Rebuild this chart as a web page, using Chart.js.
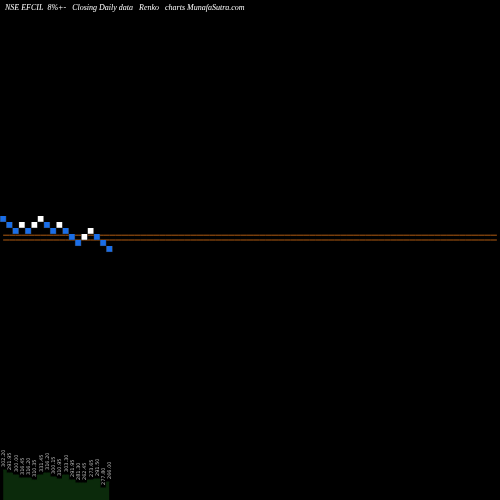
<!DOCTYPE html><html><head><script src="https://cdn.jsdelivr.net/npm/chart.js@4"></script>
<style>body{margin:0;background:#000}#w{width:500px;height:500px}</style></head><body><div id="w"><canvas id="c"></canvas></div>
<script>
const levels=[0,1,2,1,2,1,0,1,2,1,2,3,4,3,2,3,4,5];
const upBrick=[false,false,false,true,false,true,true,false,false,true,false,false,false,true,true,false,false,false];
const priceLabels=["302.20","291.95","300.00","316.45","316.20","310.35","331.45","316.20","300.15","310.95","303.30","291.95","281.30","262.45","273.65","291.50","277.80","266.00"];
const volume=[30,27,25,22,22,20,25,27,23,21,25,20,17,17,20,21,12,18];
const refLines=[39.2,40];
const N=80;
const cats=Array.from({length:N},(_,i)=>i<levels.length?priceLabels[i]:"");
const off=36;
const labelPlugin={id:'lbl',afterDatasetsDraw(ch){const c=ch.ctx,xs=ch.scales.x,yv=ch.scales.yv;c.save();c.fillStyle='#bbb';c.font='5px "DejaVu Sans"';
priceLabels.forEach((t,i)=>{const x=xs.getPixelForValue(i),y=yv.getPixelForValue(volume[i])-3;c.save();c.translate(x+2,y);c.rotate(-Math.PI/2);c.fillText(t,0,0);c.restore();});
c.fillStyle='#fff';c.font='italic 8px "Liberation Serif"';c.fillText('NSE EFCIL  8%+-   Closing Daily data   Renko   charts MunafaSutra.com',5,10);c.restore();}};
new Chart(document.getElementById('c'),{plugins:[labelPlugin],data:{labels:cats,datasets:[
{type:'bar',data:levels.map(l=>[l+off,l+off+1]),backgroundColor:upBrick.map(u=>u?'#ffffff':'#1a6ee8'),borderColor:'#333',borderWidth:0.7,barPercentage:1,categoryPercentage:1,yAxisID:'y'},
{type:'line',data:volume,yAxisID:'yv',stepped:'middle',fill:'origin',backgroundColor:'#0b2a0b',borderColor:'#0b2a0b',pointRadius:0,borderWidth:1},
...refLines.map(v=>({type:'line',data:Array(N).fill(v),yAxisID:'y',borderColor:'#b05a10',borderWidth:1,pointRadius:0,fill:false}))
]},options:{animation:false,responsive:true,maintainAspectRatio:false,layout:{padding:{left:-3}},plugins:{legend:{display:false},tooltip:{enabled:false}},
scales:{x:{display:false,offset:true},y:{display:false,reverse:true,min:0,max:500/6},yv:{display:false,min:0,max:500}}}},
);
</script>
</body></html>
